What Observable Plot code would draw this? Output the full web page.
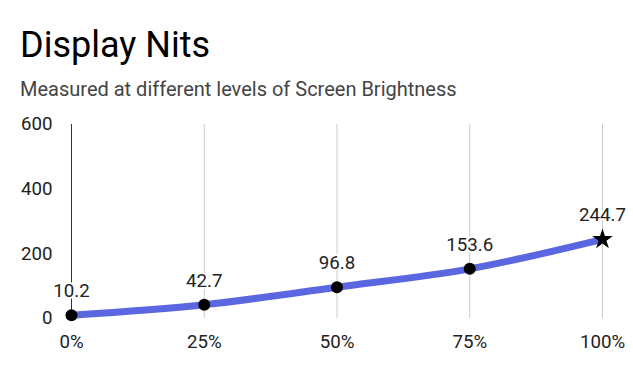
<!DOCTYPE html>
<html><head><meta charset="utf-8">
<script src="https://cdn.jsdelivr.net/npm/d3@7"></script>
<script src="https://cdn.jsdelivr.net/npm/@observablehq/plot@0.6"></script>
<style>
body{margin:0;background:#fff;font-family:Roboto,sans-serif;}
#wrap{position:relative;width:633px;height:371px;}
#title{position:absolute;left:20px;top:27px;font-size:36px;line-height:36px;color:#000;white-space:nowrap;}
#sub{position:absolute;left:20px;top:79px;font-size:20px;line-height:20px;color:#444;white-space:nowrap;}
#chart{position:absolute;left:0;top:105px;}
</style></head>
<body><div id="wrap"><div id="title">Display Nits</div><div id="sub">Measured at different levels of Screen Brightness</div><div id="chart"></div></div>
<script>
const brightness = [0, 25, 50, 75, 100];
const nits = [10.2, 42.7, 96.8, 153.6, 244.7];
const markers = ["circle", "circle", "circle", "circle", "star"];
const yTicks = [0, 200, 400, 600];
const data = brightness.map((b, i) => ({b, n: nits[i], s: markers[i]}));

const plot = Plot.plot({
  width: 633, height: 266,
  marginLeft: 71, marginRight: 31, marginTop: 19, marginBottom: 53,
  style: {fontFamily: "Roboto, sans-serif", fontSize: "18.7px", color: "#222", background: "transparent"},
  x: {domain: [0, 100], label: null},
  y: {domain: [0, 600], label: null},
  marks: [
    Plot.ruleX(brightness.slice(1), {stroke: "#ccc", strokeWidth: 1}),
    Plot.ruleX([0], {stroke: "#333", strokeWidth: 1}),
    Plot.axisX({ticks: brightness, tickFormat: d => d + "%", tickSize: 0, tickPadding: 16, fontSize: 18.7, fill: "#222", label: null}),
    Plot.axisY({ticks: yTicks, tickSize: 0, tickPadding: 19, fontSize: 18.7, fill: "#222", label: null}),
    Plot.line(data, {x: "b", y: "n", stroke: "#5b67e0", strokeWidth: 7, curve: "monotone-x"}),
    Plot.text(data, {x: "b", y: "n", text: d => d.n.toFixed(1), dy: -24, fill: "#222", stroke: "white", strokeWidth: 4, fontSize: 18.7}),
    Plot.dot(data.filter(d => d.s === "circle"), {x: "b", y: "n", r: 6, fill: "#000", symbol: "circle"}),
    Plot.dot(data.filter(d => d.s === "star"), {x: "b", y: "n", r: 6.5, fill: "#000", symbol: "star"})
  ]
});
document.getElementById("chart").appendChild(plot);
</script></body></html>
